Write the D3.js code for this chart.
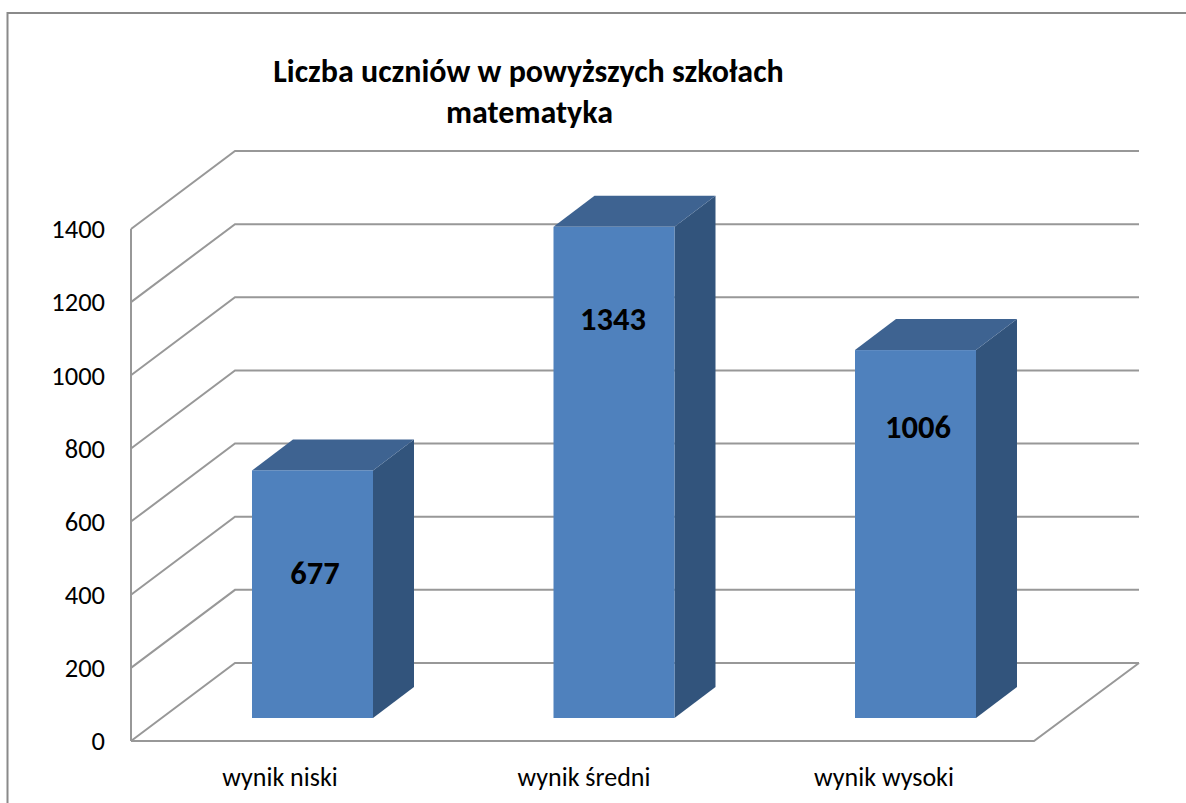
<!DOCTYPE html>
<html><head><meta charset="utf-8">
<script src="https://d3js.org/d3.v7.min.js"></script>
<style>html,body{margin:0;padding:0;background:#fff}svg{display:block}text{font-family:Carlito,Lato,"Open Sans","Noto Sans",sans-serif}</style>
</head><body><div id="c"></div>
<script>
const categories=["wynik niski","wynik średni","wynik wysoki"];
const values=[677,1343,1006];
const ticks=[0,200,400,600,800,1000,1200,1400];
const titleLines=["Liczba uczniów w powyższych szkołach","matematyka"];
const W=1186,H=803;
const svg=d3.select("#c").append("svg").attr("width",W).attr("height",H);
svg.append("path").attr("d","M7.5,803V13H1186").attr("fill","none").attr("stroke","#8a8a8a").attr("stroke-width",2);
const y=d3.scaleLinear().domain([0,1400]).range([741,229]);
const dx=104,dy=-78;
const g=svg.append("g").attr("fill","none").attr("stroke","#989898").attr("stroke-width",2);
ticks.forEach(t=>{
  g.append("path").attr("d",`M131,${y(t)}L${131+dx},${y(t)+dy}H1139`);
});
g.append("path").attr("d",`M131,${y(1400)}V${y(0)}`);
g.append("path").attr("d",`M131,${y(0)}H1034L1139,${y(0)+dy}`);
const barW=121,depthX=41,depthY=-31,floorOffset=-23;
const centers=[312.5,614,915.5];
const cx=d3.scaleOrdinal().domain(categories).range(centers);
const yBar=d=>y(d)+floorOffset;
categories.forEach((c,i)=>{
  const l=cx(c)-barW/2,r=l+barW,t=yBar(values[i]),b=y(0)+floorOffset;
  svg.append("path").attr("d",`M${r},${t}l${depthX},${depthY}V${b+depthY}L${r},${b}Z`).attr("fill","#32547c");
  svg.append("path").attr("d",`M${l},${t}l${depthX},${depthY}h${barW}l${-depthX},${-depthY}Z`).attr("fill","#3e6391");
  svg.append("rect").attr("x",l).attr("y",t).attr("width",barW).attr("height",b-t).attr("fill","#4f81bd");
});
const labelY=[573,319,427],labelX=[315,613,918];
categories.forEach((c,i)=>{
  svg.append("text").attr("x",labelX[i]).attr("y",labelY[i]).attr("dy","0.35em").attr("text-anchor","middle")
   .attr("font-size",32.5).attr("font-weight",700).attr("fill","#000").text(values[i]);
});
ticks.forEach(t=>{
  svg.append("text").attr("x",105).attr("y",y(t)).attr("dy","0.35em").attr("text-anchor","end").attr("font-size",26.5).attr("fill","#000").text(t);
});
const catX=[280,584,884];
categories.forEach((c,i)=>{
  svg.append("text").attr("x",catX[i]).attr("y",777).attr("dy","0.35em").attr("text-anchor","middle").attr("font-size",26).attr("fill","#000").text(c);
});
const tx=[528.5,529.5],ty=[71,112];
titleLines.forEach((s,i)=>{
  svg.append("text").attr("x",tx[i]).attr("y",ty[i]).attr("dy","0.35em").attr("text-anchor","middle").attr("font-size",32).attr("font-weight",700).attr("fill","#000").text(s);
});
</script></body></html>
